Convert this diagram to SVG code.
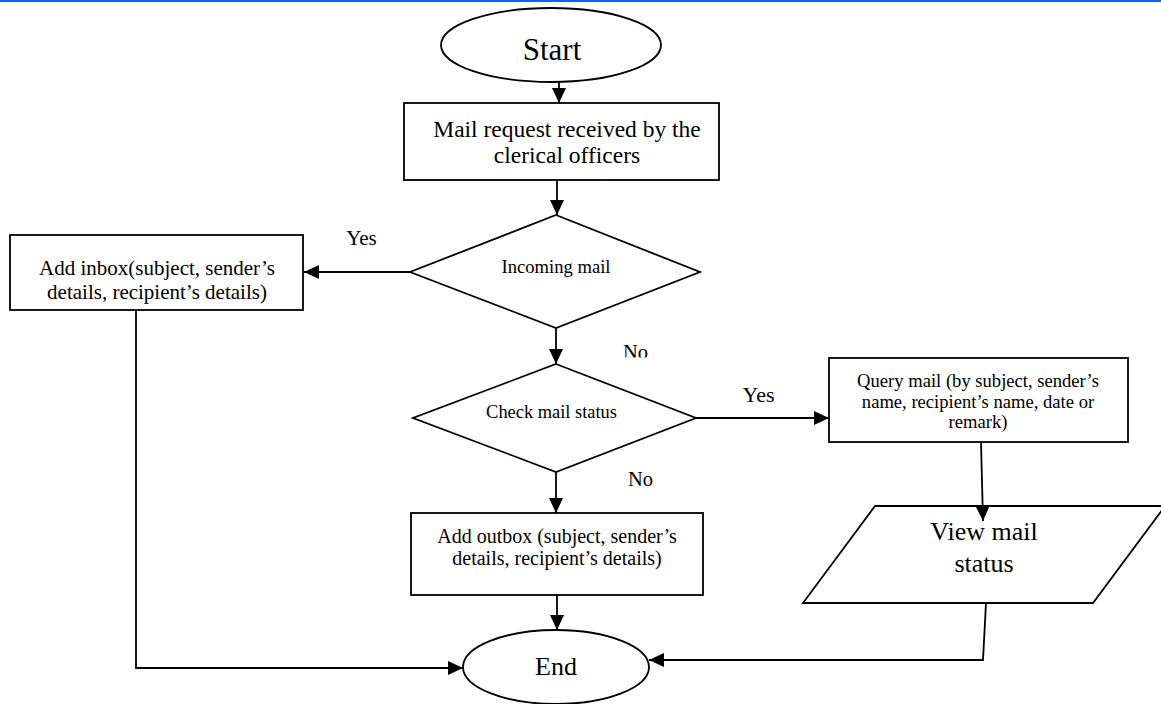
<svg xmlns="http://www.w3.org/2000/svg" width="1161" height="704" viewBox="0 0 1161 704">
<style>
.s{fill:#fff;stroke:#000;stroke-width:1.8}
.c{fill:none;stroke:#000;stroke-width:1.8}
text{font-family:"Liberation Serif","Times New Roman",serif;fill:#000;text-anchor:middle}
</style>
<defs>
<marker id="ah" markerUnits="userSpaceOnUse" markerWidth="16" markerHeight="16" refX="15" refY="7" orient="auto">
<path d="M0,0 L15,7 L0,14 Z" fill="#000"/>
</marker>
<clipPath id="noclip"><rect x="600" y="330" width="80" height="27.5"/></clipPath>
</defs>
<rect x="0" y="0" width="1161" height="2" fill="#0066ff"/>
<g id="start">
<ellipse class="s" cx="551" cy="45" rx="110" ry="37"/>
<text x="552" y="60" font-size="31">Start</text>
</g>
<g id="mail-request">
<rect class="s" x="404" y="103" width="315" height="77"/>
<text x="567" y="137" font-size="23.5">Mail request received by the</text>
<text x="567" y="163" font-size="23.5">clerical officers</text>
</g>
<g id="incoming-mail">
<polygon class="s" points="556,215 700,272 556,328 410,272"/>
<text x="556" y="273" font-size="18.6">Incoming mail</text>
</g>
<g id="add-inbox">
<rect class="s" x="10" y="235" width="293" height="75"/>
<text x="157" y="275" font-size="21">Add inbox(subject, sender’s</text>
<text x="157" y="299" font-size="21">details, recipient’s details)</text>
</g>
<g id="check-status">
<polygon class="s" points="556,364 696,418 556,472 413,418"/>
<text x="551.5" y="418" font-size="18.4">Check mail status</text>
</g>
<g id="query-mail">
<rect class="s" x="829" y="358" width="299" height="84"/>
<text x="978" y="387" font-size="18.6">Query mail (by subject, sender’s</text>
<text x="978" y="408" font-size="18.6">name, recipient’s name, date or</text>
<text x="978" y="428" font-size="18.6">remark)</text>
</g>
<g id="add-outbox">
<rect class="s" x="411" y="513" width="292" height="82"/>
<text x="557" y="543" font-size="20">Add outbox (subject, sender’s</text>
<text x="557" y="565" font-size="20">details, recipient’s details)</text>
</g>
<g id="view-status">
<polygon class="s" points="875,506 1165,506 1093,603 803,603"/>
<text x="984" y="540" font-size="26">View mail</text>
<text x="984" y="572" font-size="26">status</text>
</g>
<g id="end">
<ellipse class="s" cx="556" cy="667" rx="93" ry="37"/>
<text x="556" y="675" font-size="26">End</text>
</g>
<g id="connectors">
<line class="c" x1="559" y1="82" x2="559" y2="103" marker-end="url(#ah)"/>
<line class="c" x1="557" y1="180" x2="557" y2="215" marker-end="url(#ah)"/>
<line class="c" x1="410" y1="272" x2="304" y2="272" marker-end="url(#ah)"/>
<line class="c" x1="556" y1="328" x2="556" y2="364" marker-end="url(#ah)"/>
<line class="c" x1="696" y1="418" x2="829" y2="418" marker-end="url(#ah)"/>
<line class="c" x1="556" y1="472" x2="556" y2="513" marker-end="url(#ah)"/>
<line class="c" x1="981" y1="442" x2="983" y2="521" marker-end="url(#ah)"/>
<line class="c" x1="557" y1="595" x2="557" y2="630" marker-end="url(#ah)"/>
<polyline class="c" points="136,310 136,668 463,668" marker-end="url(#ah)"/>
<polyline class="c" points="986,603 983,660 649,660" marker-end="url(#ah)"/>
<text x="361.5" y="245" font-size="21">Yes</text>
<text x="635.5" y="359" font-size="20.5" clip-path="url(#noclip)">No</text>
<text x="758.5" y="402" font-size="22">Yes</text>
<text x="640.5" y="486" font-size="20.5">No</text>
</g>
</svg>
